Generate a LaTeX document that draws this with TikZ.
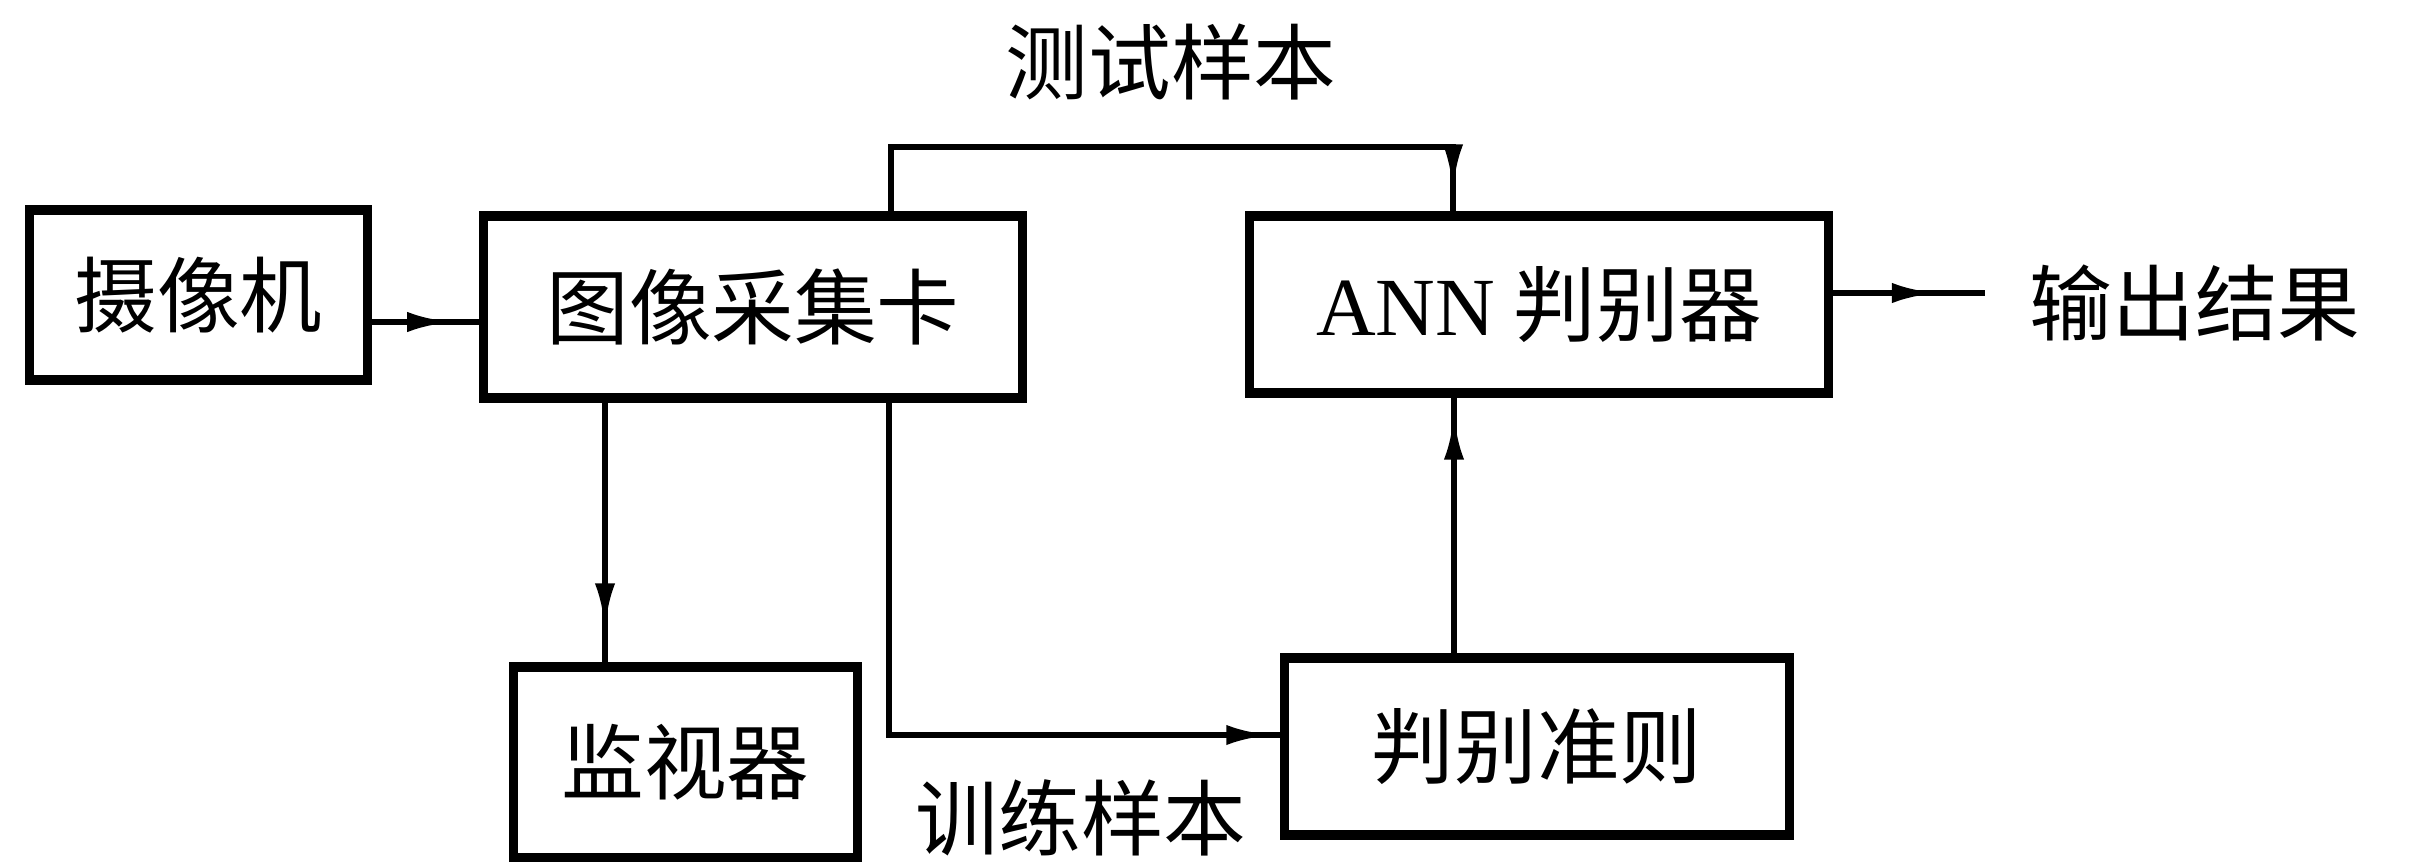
\documentclass[tikz,border=0pt]{standalone}
\usepackage{fontspec}
\setmainfont{Liberation Serif}
\newfontfamily\cjk{Noto Sans CJK SC}
\usetikzlibrary{arrows.meta,decorations.markings}
\tikzset{
  blk/.style={draw, line width=2.6pt, rectangle, inner sep=0pt, font=\cjk\fontsize{23.5pt}{28pt}\selectfont},
  lbl/.style={inner sep=0pt, font=\cjk\fontsize{23.5pt}{28pt}\selectfont},
  conn/.style={line width=1.8pt},
  tipat/.style={postaction={decorate}, decoration={markings, mark=at position #1 with {\arrow{Latex[length=0.45cm,width=0.2cm]}}}}
}
\begin{document}
\begin{tikzpicture}[x=0.01cm, y=-0.01cm]
\useasboundingbox (0,0) rectangle (2409,863);
\node[blk, minimum width=3.37cm, minimum height=1.70cm] (cam) at (198.5,295) {摄像机};
\node[blk, minimum width=5.38cm, minimum height=1.82cm] (card) at (753,307) {图像采集卡};
\node[blk, minimum width=5.78cm, minimum height=1.77cm] (ann) at (1539,304.5) {{\rmfamily ANN} 判别器};
\node[blk, minimum width=3.43cm, minimum height=1.90cm] (mon) at (685.5,762) {监视器};
\node[blk, minimum width=5.04cm, minimum height=1.77cm] (rule) at (1537,746.5) {判别准则};
\node[lbl] (out) at (2195,303) {输出结果};
\node[lbl] (test) at (1171,62) {测试样本};
\node[lbl] (train) at (1081,818) {训练样本};
\coordinate (c1) at (0,322);
\coordinate (t1) at (891,147);
\coordinate (t2) at (1453,147);
\coordinate (m1) at (605,0);
\coordinate (r1) at (889,735);
\coordinate (u1) at (1454,0);
\coordinate (o1) at (1985,293);
\draw[conn, tipat=-0.27cm] (cam.east |- c1) -- (card.west |- c1);
\draw[conn, tipat=-0.22cm] (card.north -| t1) -- (t1) -- (t2) -- (ann.north -| t2);
\draw[conn, tipat=-0.34cm] (card.south -| m1) -- (mon.north -| m1);
\draw[conn, tipat=-0.09cm] (card.south -| r1) |- (rule.west |- r1);
\draw[conn, tipat=-0.17cm] (rule.north -| u1) -- (ann.south -| u1);
\draw[conn, tipat=-0.48cm] (ann.east |- o1) -- (o1);
\end{tikzpicture}
\end{document}
